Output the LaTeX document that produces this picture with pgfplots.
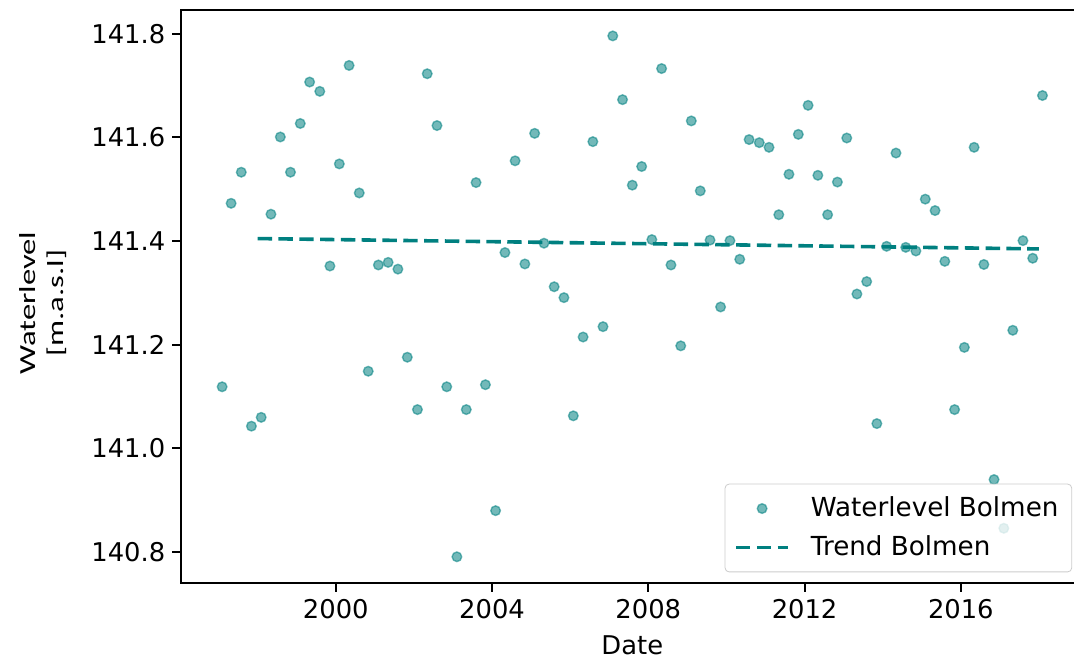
\documentclass[border=0pt]{standalone}
\usepackage{fontspec}
\setmainfont{DejaVu Sans}
\newfontfamily\calibri{Carlito}
\usepackage{pgfplots}
\usepackage{pgfplotstable}
\pgfplotsset{compat=1.18}

\pgfplotsset{
  dotlegend/.style={legend image code/.code={\path (0pt,0pt) (26pt,0pt); \draw[##1] plot coordinates {(13pt,0pt)};}},
  dashlegend/.style={legend image code/.code={\draw[##1] (0pt,0pt) -- (26pt,0pt);}},
}

% quarterly water level readings, Bolmen
\pgfplotstableread{
x       y
1997.09 141.119
1997.32 141.473
1997.58 141.533
1997.84 141.043
1998.09 141.060
1998.34 141.452
1998.58 141.601
1998.84 141.533
1999.09 141.627
1999.33 141.707
1999.59 141.689
1999.85 141.352
2000.09 141.549
2000.34 141.739
2000.60 141.493
2000.83 141.149
2001.09 141.354
2001.34 141.359
2001.59 141.346
2001.83 141.176
2002.09 141.075
2002.34 141.723
2002.59 141.623
2002.84 141.119
2003.10 140.791
2003.34 141.075
2003.59 141.513
2003.83 141.123
2004.09 140.880
2004.33 141.378
2004.59 141.555
2004.84 141.356
2005.09 141.608
2005.33 141.396
2005.59 141.312
2005.84 141.291
2006.08 141.063
2006.33 141.215
2006.58 141.592
2006.84 141.235
2007.09 141.796
2007.34 141.673
2007.59 141.508
2007.83 141.544
2008.09 141.403
2008.34 141.733
2008.58 141.354
2008.83 141.198
2009.10 141.632
2009.33 141.497
2009.58 141.402
2009.85 141.273
2010.09 141.401
2010.34 141.365
2010.58 141.596
2010.84 141.590
2011.09 141.581
2011.34 141.451
2011.60 141.529
2011.84 141.606
2012.09 141.662
2012.34 141.527
2012.59 141.451
2012.84 141.514
2013.08 141.599
2013.34 141.298
2013.59 141.322
2013.85 141.048
2014.10 141.390
2014.34 141.570
2014.59 141.388
2014.85 141.381
2015.09 141.481
2015.34 141.459
2015.59 141.361
2015.84 141.075
2016.09 141.195
2016.34 141.581
2016.59 141.355
2016.85 140.940
2017.10 140.846
2017.33 141.228
2017.59 141.401
2017.84 141.367
2018.09 141.681
}\waterlevel

\pgfplotstableread{
x       y
1998.00 141.405
2018.00 141.385
}\trend

\begin{document}
\begin{tikzpicture}
\begin{axis}[
    scale only axis,
    width=450.8pt, height=286.35pt,
    xmin=1996.05, xmax=2019.13,
    ymin=140.741, ymax=141.846,
    xtick={2000,2004,2008,2012,2016},
    ytick={140.8,141.0,141.2,141.4,141.6,141.8},
    /pgf/number format/.cd, 1000 sep={}, assume math mode=true,
    /pgfplots/.cd,
    yticklabel style={/pgf/number format/fixed, /pgf/number format/fixed zerofill, /pgf/number format/precision=1},
    tick align=outside,
    major tick length=4.6pt,
    tick style={line width=1pt, black},
    axis line style={line width=1pt},
    ticklabel style={font=\fontsize{12.9}{15}\selectfont},
    xtick pos=bottom, ytick pos=left,
    xlabel={Date},
    xlabel style={font=\fontsize{12.9}{15}\selectfont, at={(axis description cs:0.5,-0.1262)}, anchor=base},
    ylabel={\scalebox{1.42}[1]{Waterlevel}\\[2pt]\scalebox{1.42}[1]{[m.a.s.l]}},
    ylabel style={font=\calibri\fontsize{11.5}{12}\selectfont, align=center,
                  at={(axis description cs:-0.154,0.488)}, anchor=center},
    legend cell align=left,
    legend style={at={(1,0)}, anchor=south east, xshift=-5.5pt, yshift=5.2pt,
                  draw=black!20, rounded corners=2pt, fill=white, fill opacity=0.8, text opacity=1,
                  font=\fontsize{13.1}{15}\selectfont,
                  inner xsep=4.6pt, inner ysep=4.5pt, column sep=8.5pt, row sep=4pt},
]
\addplot[only marks, mark=*, mark size=2.4pt,
         mark options={fill=teal, draw=teal, line width=0.7pt, opacity=0.55},
         dotlegend]
    table[x=x, y=y] {\waterlevel};
\addlegendentry{Waterlevel Bolmen}

\addplot[teal, line width=1.8pt, dash pattern=on 7.2pt off 3.2pt, dashlegend]
    table[x=x, y=y] {\trend};
\addlegendentry{Trend Bolmen}
\end{axis}
\pgfresetboundingbox
\path ([shift={(-90.75pt,-39.65pt)}]current axis.south west) rectangle ([shift={(-4.55pt,5pt)}]current axis.north east);
\end{tikzpicture}
\end{document}
